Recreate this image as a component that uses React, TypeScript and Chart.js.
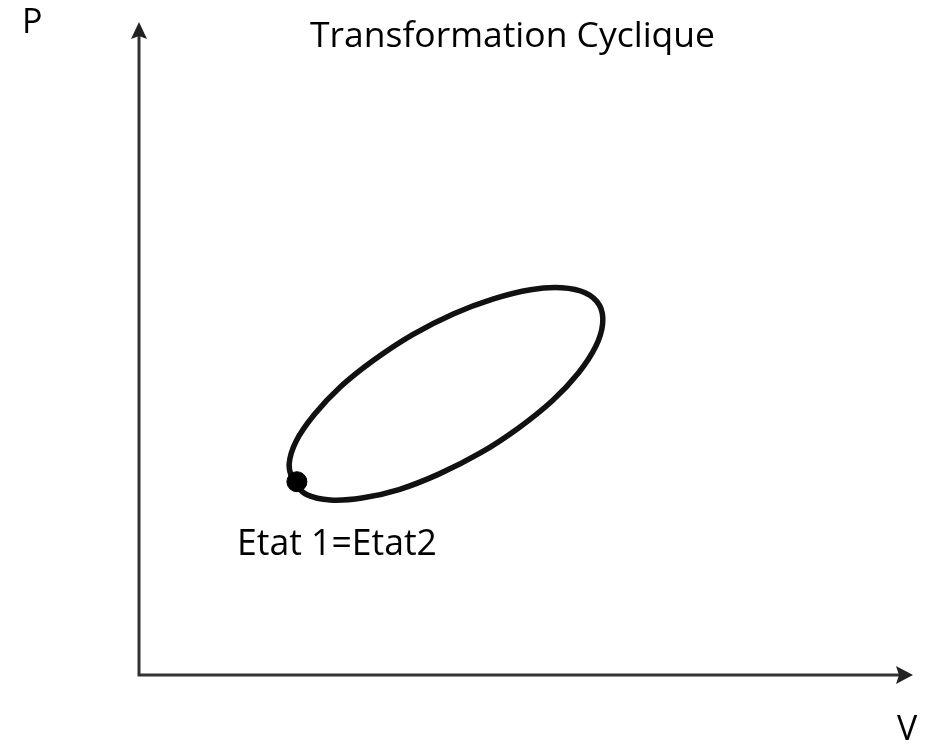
import React, { useEffect, useRef } from "react";
import { Chart, registerables } from "chart.js";

Chart.register(...registerables);

// Cycle (V, P) in arbitrary units, starting at the marked state
const volumes = [19.9, 21.7, 24.7, 28.8, 33.6, 38.8, 44.1, 49.0, 53.4, 56.8, 59.0, 59.9, 59.5, 57.7, 54.6, 50.6, 45.8, 40.6, 35.3, 30.3, 26.0, 22.6, 20.3, 19.4, 19.9];
const pressures = [29.5, 27.6, 26.8, 27.1, 28.4, 30.8, 34.0, 37.8, 42.0, 46.3, 50.3, 53.8, 56.6, 58.5, 59.3, 59.0, 57.6, 55.3, 52.1, 48.2, 44.1, 39.8, 35.8, 32.3, 29.5];
const stateV = [20.4];
const stateP = [29.6];
const stateLabel = "Etat 1=Etat2";
const titleText = "Transformation Cyclique";
const xAxisLabel = "V";
const yAxisLabel = "P";

const FONT = "'Open Sans', 'Noto Sans', sans-serif";

function drawFitted(ctx: CanvasRenderingContext2D, text: string, left: number, right: number, baseline: number) {
  ctx.font = `100px ${FONT}`;
  const w = ctx.measureText(text).width;
  const size = (100 * (right - left)) / w;
  ctx.font = `${size}px ${FONT}`;
  ctx.fillStyle = "#000";
  ctx.textAlign = "left";
  ctx.textBaseline = "alphabetic";
  ctx.fillText(text, left, baseline);
}

function drawAt(ctx: CanvasRenderingContext2D, text: string, left: number, baseline: number, size: number) {
  ctx.font = `${size}px ${FONT}`;
  ctx.fillStyle = "#000";
  ctx.textAlign = "left";
  ctx.textBaseline = "alphabetic";
  ctx.fillText(text, left, baseline);
}

const decorPlugin = {
  id: "decor",
  beforeDatasetsDraw(chart: any) {
    const ctx: CanvasRenderingContext2D = chart.ctx;
    const xs = chart.scales.x;
    const ys = chart.scales.y;
    const x0 = xs.getPixelForValue(0);
    const y0 = ys.getPixelForValue(0);
    const xEnd = xs.getPixelForValue(xs.max);
    const yEnd = ys.getPixelForValue(ys.max);
    ctx.save();
    ctx.strokeStyle = "#333";
    ctx.fillStyle = "#222";
    ctx.lineWidth = 3;
    ctx.beginPath();
    ctx.moveTo(x0, yEnd + 12);
    ctx.lineTo(x0, y0);
    ctx.lineTo(xEnd - 12, y0);
    ctx.stroke();
    // arrow heads
    ctx.beginPath();
    ctx.moveTo(x0, yEnd);
    ctx.lineTo(x0 - 8, yEnd + 17);
    ctx.lineTo(x0, yEnd + 14);
    ctx.lineTo(x0 + 8, yEnd + 17);
    ctx.closePath();
    ctx.fill();
    ctx.beginPath();
    ctx.moveTo(xEnd, y0);
    ctx.lineTo(xEnd - 17, y0 - 9);
    ctx.lineTo(xEnd - 14, y0);
    ctx.lineTo(xEnd - 17, y0 + 9);
    ctx.closePath();
    ctx.fill();
    ctx.restore();
  },
  afterDraw(chart: any) {
    const ctx: CanvasRenderingContext2D = chart.ctx;
    ctx.save();
    drawFitted(ctx, titleText, 310, 715, 47);
    drawAt(ctx, yAxisLabel, 22, 33, 34);
    drawAt(ctx, xAxisLabel, 897, 740, 34);
    drawFitted(ctx, stateLabel, 237, 437, 555);
    ctx.restore();
  },
};

export default function App() {
  const ref = useRef<HTMLCanvasElement | null>(null);
  useEffect(() => {
    if (!ref.current) return;
    const chart = new Chart(ref.current, {
      type: "scatter",
      data: {
        datasets: [
          {
            data: stateV.map((v, i) => ({ x: v, y: stateP[i] })),
            backgroundColor: "#000",
            borderColor: "#000",
            pointRadius: 10,
            pointHoverRadius: 10,
            showLine: false,
            order: 0,
          },
          {
            data: volumes.map((v, i) => ({ x: v, y: pressures[i] })),
            showLine: true,
            borderColor: "#111",
            borderWidth: 5.5,
            pointRadius: 0,
            tension: 0.4,
            fill: false,
            order: 1,
          },
        ],
      },
      options: {
        responsive: false,
        animation: false,
        events: [],
        layout: { padding: { left: 139, right: 22, top: 22, bottom: 69 } },
        plugins: { legend: { display: false }, tooltip: { enabled: false }, title: { display: false } },
        scales: {
          x: { type: "linear", min: 0, max: 100, display: false },
          y: { type: "linear", min: 0, max: 100, display: false },
        },
      },
      plugins: [decorPlugin],
    });
    return () => chart.destroy();
  }, []);
  return (
    <div style={{ position: "fixed", left: 0, top: 0, width: 935, height: 744, background: "#fff" }}>
      <canvas ref={ref} width={935} height={744} style={{ display: "block" }} />
    </div>
  );
}
